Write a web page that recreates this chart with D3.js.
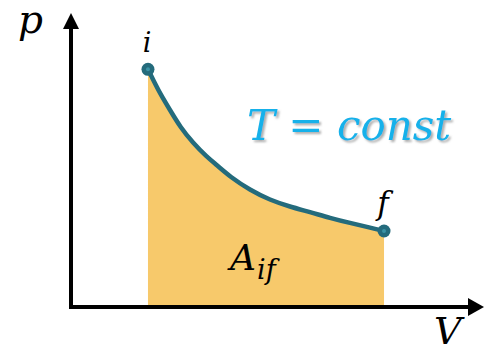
<!DOCTYPE html>
<html><head><meta charset="utf-8">
<script src="https://cdn.jsdelivr.net/npm/d3@7"></script>
<style>
html,body{margin:0;padding:0;background:#fff;}
svg{display:block;}
</style></head>
<body>
<svg id="chart" width="485" height="353"></svg>
<script>
// Isotherm data (arbitrary units)
const volume   = [1.283, 1.372, 1.483, 1.650, 1.817, 2.038, 2.262, 2.428, 2.650, 2.983, 3.317, 3.650, 3.983, 4.317, 4.650, 4.983, 5.217];
const pressure = [4.084, 3.900, 3.672, 3.385, 3.098, 2.813, 2.582, 2.440, 2.239, 2.010, 1.838, 1.723, 1.632, 1.529, 1.443, 1.366, 1.306];
const endLabels = ["i", "f"];
const axisLabels = ["p", "V"];
const curveLabel = "T = const";

const FONT = '"DejaVu Serif"';
const svg = d3.select("#chart");
const x = d3.scaleLinear().domain([0, 6.9]).range([71, 485]);
const y = d3.scaleLinear().domain([0, 5]).range([307, 16]);
const pts = volume.map((v, k) => ({v, p: pressure[k]}));

const defs = svg.append("defs");
const flt = defs.append("filter").attr("id","sh").attr("x","-10%").attr("y","-20%").attr("width","130%").attr("height","150%");
flt.append("feDropShadow").attr("dx",2).attr("dy",2).attr("stdDeviation",1.2).attr("flood-color","#777").attr("flood-opacity",0.6);

// area under the curve
svg.append("path").datum(pts)
  .attr("d", d3.area().x(d => x(d.v)).y0(y(0)).y1(d => y(d.p)).curve(d3.curveBasis))
  .attr("fill", "#f7c96b");

// axes
const ax = svg.append("g");
ax.append("line").attr("x1", x(0)).attr("x2", 470).attr("y1", y(0)).attr("y2", y(0))
  .attr("stroke", "#000").attr("stroke-width", 4);
ax.append("line").attr("x1", x(0)).attr("x2", x(0)).attr("y1", y(0) + 2).attr("y2", 28)
  .attr("stroke", "#000").attr("stroke-width", 4);
ax.append("path").attr("d", `M${x(0)-8},29 L${x(0)},13 L${x(0)+8},29 Z`).attr("fill", "#000");
ax.append("path").attr("d", `M468,${y(0)-9} L484,${y(0)} L468,${y(0)+9} Z`).attr("fill", "#000");

// curve
svg.append("path").datum(pts)
  .attr("d", d3.line().x(d => x(d.v)).y(d => y(d.p)).curve(d3.curveBasis))
  .attr("fill", "none").attr("stroke", "#246b7c").attr("stroke-width", 4.5).attr("stroke-linecap","round");

// end points
const ends = [pts[0], pts[pts.length - 1]];
svg.selectAll("circle.end").data(ends).enter().append("circle")
  .attr("cx", d => x(d.v)).attr("cy", d => y(d.p)).attr("r", 6.5).attr("fill", "#246b7c");
svg.selectAll("circle.in").data(ends).enter().append("circle")
  .attr("cx", d => x(d.v)).attr("cy", d => y(d.p)).attr("r", 2).attr("fill", "#3b93a6");

// labels
function label(t, xx, yy, size, color) {
  return svg.append("text").attr("x", xx).attr("y", yy)
    .style("font-family", FONT).style("font-style", "italic")
    .attr("font-size", size).attr("fill", color).text(t);
}
label(axisLabels[0], 18, 33, 39, "#000");
label(axisLabels[1], 434, 344, 38, "#000");
label(endLabels[0], x(ends[0].v) - 1, 52, 27, "#000").attr("text-anchor","middle");
label(endLabels[1], 383, 214, 31, "#000").attr("text-anchor","middle");
const a = label("", 230, 270, 36, "#000");
a.append("tspan").text("A");
a.append("tspan").attr("font-size", 27).attr("dy", 9).attr("dx", 1).text("if");
label(curveLabel, 247, 140, 42, "#19b1ea").attr("filter","url(#sh)");
</script>
</body></html>
